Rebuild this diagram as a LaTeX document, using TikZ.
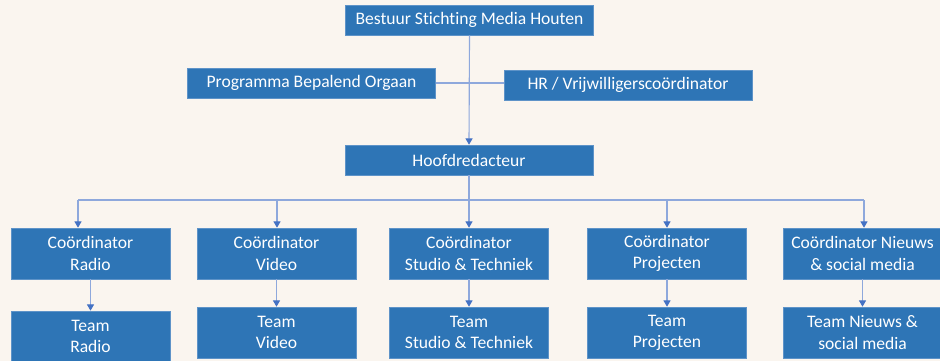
\documentclass[tikz,border=0pt]{standalone}
\usepackage{fontspec}
\setmainfont{Carlito}[Ligatures={NoCommon}]
\usetikzlibrary{arrows.meta}
\definecolor{paper}{HTML}{FAF5EF}
\definecolor{boxblue}{HTML}{2E75B6}
\definecolor{boxedge}{HTML}{5E93C8}
\definecolor{linkblue}{HTML}{8EA8DC}
\definecolor{tipblue}{HTML}{4472C4}
\tikzset{
    unit/.style={fill=boxblue, draw=boxedge, line width=0.4pt, text=white,
        align=center, inner sep=0pt, font=\fontsize{12.5}{15}\selectfont},
    wide/.style={unit, minimum width=6.2cm, minimum height=0.75cm},
    small/.style={unit, minimum width=3.98cm, minimum height=1.275cm},
    link/.style={draw=linkblue, line width=0.8pt},
    arr/.style={link, -{Triangle[width=5pt,length=4.5pt,color=tipblue]}}
}
\begin{document}
\begin{tikzpicture}[x=0.025cm, y=-0.025cm]
    % background
    \fill[paper] (0,0) rectangle (940,361);
    \useasboundingbox (0,0) rectangle (940,361);
    % board and staff
    \node[wide] (bestuur) at (469.5,20) {Bestuur Stichting Media Houten};
    \node[wide] (pbo) at (311.5,83) {Programma Bepalend Orgaan};
    \node[wide] (hr) at (628,85) {HR / Vrijwilligerscoördinator};
    \node[wide] (hoofd) at (469,160) {Hoofdredacteur};
    \draw[link] (pbo.east) -- (hr.west |- pbo.east);
    \draw[arr] (bestuur.south) -- (hoofd.north);
    % coordinators and teams
    \foreach \i/\x/\ty/\ax/\ctxt/\ttxt in {
        1/90.5/336.5/78/{Coördinator\\Radio}/{Team\\Radio},
        2/276.5/332.5/277/{Coördinator\\Video}/{Team\\Video},
        3/469/332.5/469/{Coördinator\\Studio \& Techniek}/{Team\\Studio \& Techniek},
        4/667/332.5/667/{Coördinator\\Projecten}/{Team\\Projecten},
        5/862.5/332.5/864/{Coördinator Nieuws\\\& social media}/{Team Nieuws \&\\social media}} {
        \node[small] (c\i) at (\x,253.5) {\ctxt};
        \node[small] (t\i) at (\x,\ty) {\ttxt};
        \coordinate (a\i) at (\ax,200);
        \draw[arr] (a\i) -- (a\i |- c\i.north);
        \draw[arr] (c\i.south) -- (t\i.north);
    }
    % bus
    \draw[link] (a1) -- (a5);
    \draw[link] (hoofd.south) -- (hoofd.south |- a1);
\end{tikzpicture}
\end{document}
